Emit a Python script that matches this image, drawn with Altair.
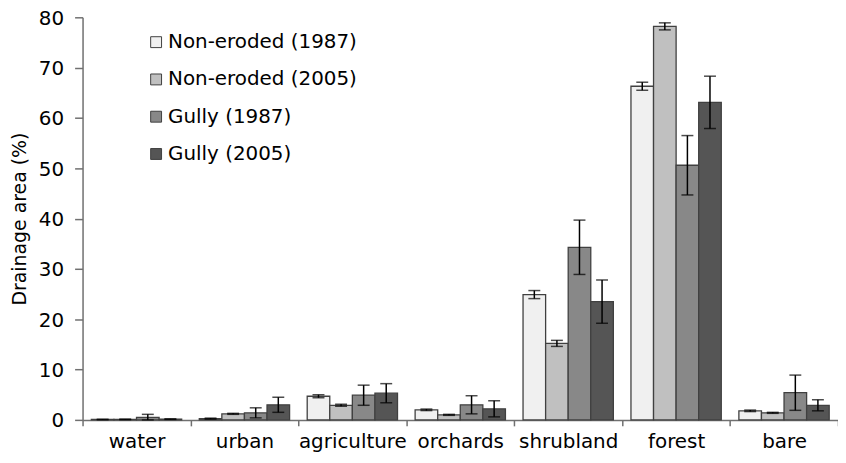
import altair as alt
import pandas as pd

categories = ["water", "urban", "agriculture", "orchards", "shrubland", "forest", "bare"]
series = ["Non-eroded (1987)", "Non-eroded (2005)", "Gully (1987)", "Gully (2005)"]
colors = ["#f0f0f0", "#c0c0c0", "#888888", "#555555"]

ne1987 = [0.1, 0.25, 4.7, 2.0, 24.9, 66.3, 1.8]
ne1987_err = [0.05, 0.1, 0.3, 0.15, 0.8, 0.8, 0.15]
ne2005 = [0.1, 1.2, 2.9, 1.0, 15.2, 78.2, 1.4]
ne2005_err = [0.05, 0.1, 0.2, 0.1, 0.6, 0.7, 0.1]
g1987 = [0.5, 1.4, 4.9, 3.0, 34.3, 50.6, 5.4]
g1987_err = [0.6, 1.0, 2.0, 1.8, 5.4, 5.9, 3.5]
g2005 = [0.15, 3.0, 5.3, 2.2, 23.5, 63.1, 2.9]
g2005_err = [0.05, 1.5, 1.9, 1.6, 4.3, 5.2, 1.1]

rows = []
for s, vals, errs in zip(series, [ne1987, ne2005, g1987, g2005],
                         [ne1987_err, ne2005_err, g1987_err, g2005_err]):
    for c, v, e in zip(categories, vals, errs):
        rows.append({"category": c, "series": s, "value": v,
                     "lo": max(v - e, 0), "hi": v + e})
df = pd.DataFrame(rows)

FONT = "DejaVu Sans"
AXC = "#707070"

x = alt.X("category:N", sort=categories, title=None,
          scale=alt.Scale(paddingInner=0, paddingOuter=0),
          axis=alt.Axis(tickBand="extent", labelAngle=0, labelFontSize=20,
                        labelColor="#000", labelPadding=6, tickSize=6,
                        domainColor=AXC, tickColor=AXC, domainWidth=1.5,
                        tickWidth=1.5, labelFont=FONT))
xoff = alt.XOffset("series:N", sort=series,
                   scale=alt.Scale(paddingInner=0, paddingOuter=0.39))

base = alt.Chart(df)

bars = base.mark_bar(stroke="#404040", strokeWidth=1.3).encode(
    x=x, xOffset=xoff,
    y=alt.Y("value:Q", title="Drainage area (%)",
            scale=alt.Scale(domain=[0, 80], nice=False),
            axis=alt.Axis(values=list(range(0, 81, 10)), labelFontSize=20,
                          labelColor="#000", titleFontSize=19,
                          titleFontWeight="normal", titleColor="#000",
                          titleFont=FONT, labelFont=FONT, tickSize=8,
                          labelPadding=11, labelOffset=1,
                          domainColor=AXC, tickColor=AXC, domainWidth=1.5,
                          tickWidth=1.5, grid=False, titlePadding=9)),
    fill=alt.Fill("series:N", sort=series,
                  scale=alt.Scale(domain=series, range=colors),
                  legend=alt.Legend(title=None, orient="none", legendX=64,
                                    legendY=15, labelFontSize=20,
                                    labelFont=FONT, labelColor="#000",
                                    labelLimit=0,
                                    symbolType="square", symbolSize=120,
                                    symbolStrokeColor="#404040",
                                    symbolStrokeWidth=1, rowPadding=17.5,
                                    labelOffset=2, padding=0)),
)

rules = base.mark_rule(color="#000", strokeWidth=1.5).encode(
    x=x, xOffset=xoff, y="lo:Q", y2="hi:Q")
caps_lo = base.mark_tick(color="#000", thickness=1.5, size=12).encode(
    x=x, xOffset=xoff, y="lo:Q")
caps_hi = base.mark_tick(color="#000", thickness=1.5, size=12).encode(
    x=x, xOffset=xoff, y="hi:Q")

chart = alt.layer(bars, rules, caps_lo, caps_hi).properties(
    width=760, height=405,
    autosize=alt.AutoSizeParams(type="none"),
    padding={"left": 75, "top": 8, "right": 0, "bottom": 40},
).configure_view(stroke=None)

chart.save("out.html", embed_options={"renderer": "svg", "actions": False})
